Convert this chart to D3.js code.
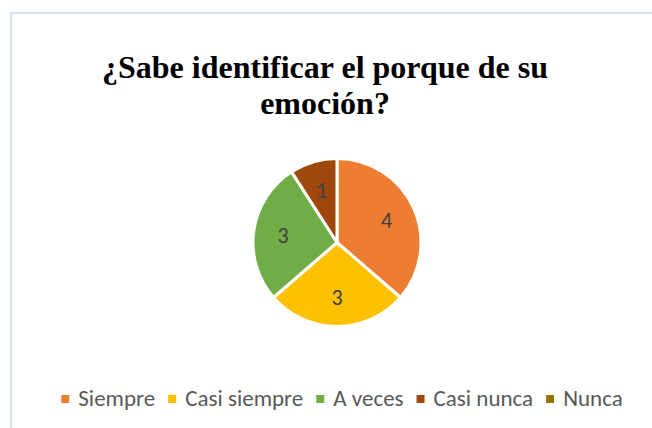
<!DOCTYPE html>
<html>
<head>
<meta charset="utf-8">
<script src="https://cdn.jsdelivr.net/npm/d3@7"></script>
<style>
  html, body { margin: 0; padding: 0; background: #fff; }
  .title { font-family: 'Liberation Serif', Tinos, serif; font-weight: 700; }
  .sans { font-family: Carlito, Lato, sans-serif; }
</style>
</head>
<body>
<svg id="chart"></svg>
<script>
// Data
const categories = ['Siempre', 'Casi siempre', 'A veces', 'Casi nunca', 'Nunca'];
const values = [4, 3, 3, 1, 0];
const colors = ['#ED7D31', '#FFC000', '#70AD47', '#9E480E', '#997300'];
const titleLines = ['¿Sabe identificar el porque de su', 'emoción?'];

const width = 652, height = 428;
const cx = 337, cy = 242.5, radius = 84;

const svg = d3.select('#chart')
  .attr('width', width)
  .attr('height', height)
  .attr('viewBox', [0, 0, width, height]);

// Chart area frame (only top and left edges visible in the crop)
svg.append('path')
  .attr('d', `M11,${height}V13H${width}`)
  .attr('fill', 'none')
  .attr('stroke', '#D9E1F2')
  .attr('stroke-width', 2);

// Title
svg.append('text')
  .attr('class', 'title')
  .attr('text-anchor', 'middle')
  .attr('font-size', 32)
  .attr('fill', '#000')
  .selectAll('tspan')
  .data(titleLines)
  .join('tspan')
    .attr('x', 325)
    .attr('y', (_, i) => 78 + i * 36)
    .text(d => d);

// Pie
const color = d3.scaleOrdinal(categories, colors);
const pie = d3.pie().sort(null).value(d => d.value);
const arcs = pie(categories.map((c, i) => ({ name: c, value: values[i] })));
const arc = d3.arc().innerRadius(0).outerRadius(radius);
const labelArc = d3.arc().innerRadius(radius * 0.65).outerRadius(radius * 0.65);

const g = svg.append('g').attr('transform', `translate(${cx},${cy})`);

g.selectAll('path')
  .data(arcs.filter(d => d.value > 0))
  .join('path')
    .attr('d', arc)
    .attr('fill', d => color(d.data.name))
    .attr('stroke', '#fff')
    .attr('stroke-width', 3)
    .attr('stroke-linejoin', 'miter');

g.selectAll('text')
  .data(arcs.filter(d => d.value > 0))
  .join('text')
    .attr('class', 'sans')
    .attr('transform', d => `translate(${labelArc.centroid(d)})`)
    .attr('text-anchor', 'middle')
    .attr('dy', '0.36em')
    .attr('font-size', 22)
    .attr('fill', '#404040')
    .text(d => d.value);

// Legend
const legend = svg.append('g')
  .attr('class', 'sans')
  .attr('font-size', 23)
  .attr('fill', '#595959');

const items = legend.selectAll('g')
  .data(categories)
  .join('g');

items.append('rect')
  .attr('width', 8)
  .attr('height', 8)
  .attr('y', -11)
  .attr('fill', d => color(d));

items.append('text')
  .attr('x', 17)
  .attr('y', 0)
  .text(d => d);

// place items side by side using measured widths, centred at 342
let x = 0;
const offsets = [];
items.each(function() {
  offsets.push(x);
  const w = d3.select(this).select('text').node().getComputedTextLength();
  x += 17 + w + 13;
});
const total = x - 13;
const startX = 342 - total / 2;
items.attr('transform', (_, i) => `translate(${startX + offsets[i]},406)`);
</script>
</body>
</html>
